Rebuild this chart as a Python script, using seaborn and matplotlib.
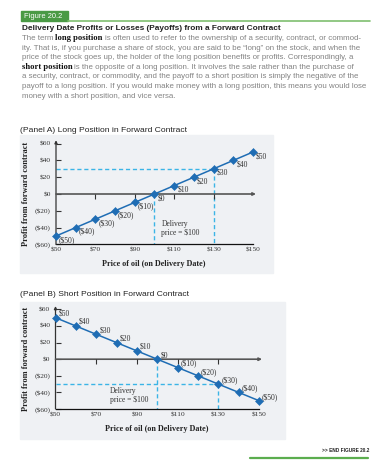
import matplotlib
matplotlib.use('Agg')
import matplotlib.pyplot as plt
from matplotlib.patches import Rectangle
import seaborn as sns
import pandas as pd

# --- Data ---
oil_price = [50, 60, 70, 80, 90, 100, 110, 120, 130, 140, 150]
long_payoff = [-50, -40, -30, -20, -10, 0, 10, 20, 30, 40, 50]
short_payoff = [50, 40, 30, 20, 10, 0, -10, -20, -30, -40, -50]
long_labels = ['($50)', '($40)', '($30)', '($20)', '($10)', '$0',
               '$10', '$20', '$30', '$40', '$50']
short_labels = ['$50', '$40', '$30', '$20', '$10', '$0',
                '($10)', '($20)', '($30)', '($40)', '($50)']
x_ticks = [50, 70, 90, 110, 130, 150]
x_tick_labels = ['$50', '$70', '$90', '$110', '$130', '$150']
y_ticks = [60, 40, 20, 0, -20, -40, -60]
y_tick_labels = ['$60', '$40', '$20', '$0', '($20)', '($40)', '($60)']
delivery_price = 100
guide_price = 130
guide_long = 30
guide_short = -30

paragraph = [
    [('The term', False), ('long position', True),
     ('is often used to refer to the ownership of a security, contract, or commod-', False)],
    [('ity. That is, if you purchase a share of stock, you are said to be \u201clong\u201d on the stock, and when the', False)],
    [('price of the stock goes up, the holder of the long position benefits or profits. Correspondingly, a', False)],
    [('short position', True),
     ('is the opposite of a long position. It involves the sale rather than the purchase of', False)],
    [('a security, contract, or commodity, and the payoff to a short position is simply the negative of the', False)],
    [('payoff to a long position. If you would make money with a long position, this means you would lose', False)],
    [('money with a short position, and vice versa.', False)],
]

# --- Style ---
W, H = 388, 473
SANS = 'Liberation Sans'
SERIF = 'Liberation Serif'
LINE_BLUE = '#1f6db4'
CYAN = '#3bb4e6'
PANEL_BG = '#eff1f4'
GREEN_DARK = '#4a9a45'
GREEN_LIGHT = '#7fbf6f'
TICK_FS = 5.3

sns.set_theme(style='white')
plt.rcParams['font.family'] = [SANS, 'DejaVu Sans']


def fx(x):
    return x / W


def fy(y):
    return 1 - y / H


fig = plt.figure(figsize=(W / 100, H / 100), dpi=100)
fig.patch.set_facecolor('white')
renderer = fig.canvas.get_renderer()

# --- Header ---
fig.patches.append(Rectangle((fx(21), fy(21.5)), fx(68) - fx(21), (21.5 - 11) / H,
                             transform=fig.transFigure, color=GREEN_DARK, zorder=1))
fig.add_artist(plt.Line2D([fx(68), fx(370)], [fy(20.8), fy(20.8)],
                          transform=fig.transFigure, color=GREEN_LIGHT, lw=1.2))
fig.text(fx(23.5), fy(16.5), 'Figure 20.2', color='white', fontsize=5.4,
         family=SANS, va='center', ha='left', zorder=2)
fig.text(fx(21.5), fy(28), 'Delivery Date Profits or Losses (Payoffs) from a Forward Contract',
         fontsize=5.95, weight='bold', family=SANS, color='#222222', va='center')

PARA_FS = 5.7
plain_kw = dict(family=SANS, fontsize=PARA_FS, color='#838383')
bold_kw = dict(family=SERIF, fontsize=6.2, weight='bold', color='#111111')
space_w = 0.3 * PARA_FS * 100 / 72

baseline = 40.3
for line in paragraph:
    x = 21.5
    for i, (s, bold) in enumerate(line):
        kw = bold_kw if bold else plain_kw
        if i > 0:
            x += space_w
        t = fig.text(fx(x), fy(baseline), s, va='baseline', ha='left', **kw)
        x += t.get_window_extent(renderer).width
    baseline += 9.55


# --- Panels ---
def draw_panel(box, axes_px, payoff, labels, guide_y, lab_off, note_xy, note_ha,
               title, title_y, xlabel_xy):
    bx0, by0, bx1, by1 = box
    fig.patches.append(Rectangle((fx(bx0), fy(by1)), fx(bx1) - fx(bx0), (by1 - by0) / H,
                                 transform=fig.transFigure, color=PANEL_BG, zorder=-1))
    fig.text(fx(20), fy(title_y), title, fontsize=6.1, family=SANS, color='#222222',
             va='center', ha='left')
    left, right, top, bottom = axes_px
    ax = fig.add_axes([fx(left), fy(bottom), (right - left) / W, (bottom - top) / H])
    ax.set_zorder(2)
    ax.patch.set_alpha(0)

    df = pd.DataFrame({'price': oil_price, 'payoff': payoff})
    sns.lineplot(data=df, x='price', y='payoff', ax=ax, color=LINE_BLUE, lw=1.1,
                 marker='D', markersize=3.6, markeredgewidth=0.4,
                 markeredgecolor=LINE_BLUE, clip_on=False, zorder=6)
    ax.set_xlim(50, 150)
    ax.set_ylim(-60, 60)

    for s in ['top', 'right', 'left']:
        ax.spines[s].set_visible(False)
    ax.spines['bottom'].set_color('#111111')
    ax.spines['bottom'].set_linewidth(0.9)

    ax.set_xticks(x_ticks, x_tick_labels)
    ax.set_yticks(y_ticks, y_tick_labels)
    ax.tick_params(axis='x', length=0, pad=2.5, labelsize=TICK_FS, labelcolor='#333333')
    ax.tick_params(axis='y', direction='in', length=3.5, width=0.8, color='#333333',
                   pad=3.8, labelsize=TICK_FS, labelcolor='#333333', left=True)
    for lab in ax.get_xticklabels() + ax.get_yticklabels():
        lab.set_family(SERIF)
    ax.set_xlabel('')
    ax.set_ylabel('')

    # axes with arrows
    ax.annotate('', xy=(50, 64), xytext=(50, -60),
                arrowprops=dict(arrowstyle='-|>', color='#333333', lw=0.9,
                                mutation_scale=4, shrinkA=0, shrinkB=0),
                annotation_clip=False)
    ax.annotate('', xy=(151.5, 0), xytext=(50, 0),
                arrowprops=dict(arrowstyle='-|>', color='#555555', lw=1.2,
                                mutation_scale=4, shrinkA=0, shrinkB=0),
                annotation_clip=False)
    ax.vlines(x_ticks[1:-1], -5.5, 0, color='#333333', lw=0.8, zorder=3)

    # guide lines
    dash = dict(color=CYAN, lw=1.0, ls=(0, (3, 2)), zorder=2, clip_on=False)
    ax.plot([50, guide_price], [guide_y, guide_y], **dash)
    ax.plot([guide_price, guide_price], [guide_y, -60], **dash)
    ax.plot([delivery_price, delivery_price], [0, -60], **dash)

    ax.text(note_xy[0], note_xy[1], 'Delivery\nprice = $100', family=SERIF, fontsize=5.5,
            color='#333333', ha=note_ha, multialignment='left', va='center',
            linespacing=1.1)

    for p, v, lab in zip(oil_price, payoff, labels):
        ax.annotate(lab, (p, v), xytext=lab_off, textcoords='offset pixels',
                    family=SERIF, fontsize=5.5, color='#333333', ha='left', va='center',
                    annotation_clip=False)

    fig.text(fx(26), fy((top + bottom) / 2), 'Profit from forward contract', rotation=90,
             family=SERIF, weight='bold', fontsize=6.0, color='#222222',
             ha='center', va='center')
    fig.text(fx(xlabel_xy[0]), fy(xlabel_xy[1]), 'Price of oil (on Delivery Date)',
             family=SERIF, weight='bold', fontsize=5.9, color='#222222',
             ha='center', va='center')
    return ax


draw_panel((20, 135, 273, 273), (56, 253, 143.6, 244.4), long_payoff, long_labels,
           guide_long, (3, -4), (103.5, -41), 'left',
           '(Panel A) Long Position in Forward Contract', 130, (154, 264))
draw_panel((20, 302, 285, 439), (55.5, 259, 309.4, 409), short_payoff, short_labels,
           guide_short, (3, 4), (95.5, -44), 'right',
           '(Panel B) Short Position in Forward Contract', 295, (157, 429))

# --- Footer ---
fig.text(fx(369), fy(450), '>> END FIGURE 20.2', family=SANS, weight='bold',
         fontsize=3.4, color='#222222', ha='right', va='center')
fig.add_artist(plt.Line2D([fx(250), fx(368)], [fy(458), fy(458)],
                          transform=fig.transFigure, color='#5bad4e', lw=1.6))

fig.savefig('out.png', dpi=100)
